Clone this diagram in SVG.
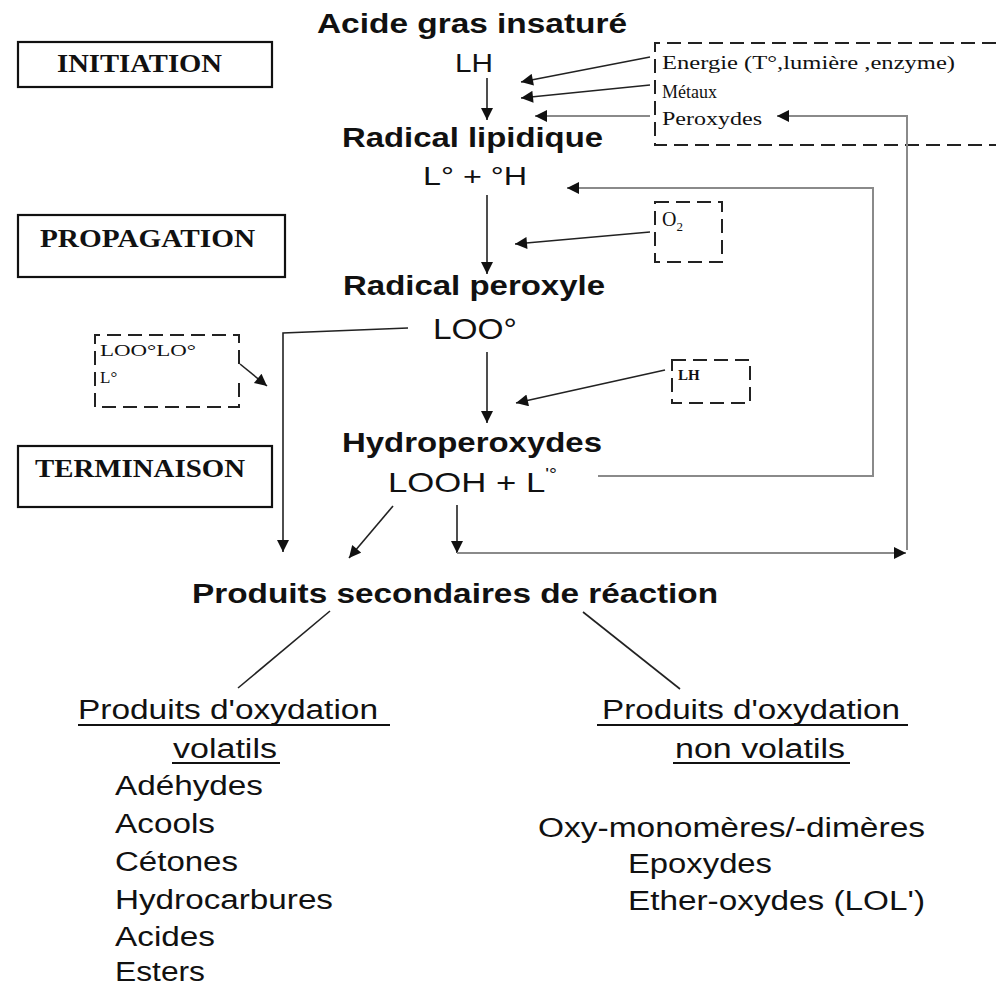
<svg xmlns="http://www.w3.org/2000/svg" width="996" height="988" viewBox="0 0 996 988">
<style>
.t{font-family:"Liberation Sans",Arial,sans-serif;fill:#111}
.b{font-weight:bold}
.s{font-family:"Liberation Serif","Times New Roman",serif;fill:#111}
.stage{fill:none;stroke:#111;stroke-width:2.2}
.dash{fill:none;stroke:#222;stroke-width:2;stroke-dasharray:14 7}
.a{fill:none;stroke:#222;stroke-width:1.6}
.g{fill:none;stroke:#8a8a8a;stroke-width:2}
.u{stroke:#111;stroke-width:2.2}
</style>
<defs>
<marker id="ah" viewBox="0 0 10 10" refX="10" refY="5" markerWidth="14" markerHeight="12" markerUnits="userSpaceOnUse" orient="auto">
<path d="M0,0 L10,5 L0,10 z" fill="#111"/>
</marker>
</defs>
<rect width="996" height="988" fill="#fff"/>

<g id="stage-initiation">
<rect class="stage" x="18" y="42" width="254" height="45"/>
<text class="s b" x="57" y="72" font-size="26" textLength="165" lengthAdjust="spacingAndGlyphs">INITIATION</text>
</g>
<g id="stage-propagation">
<rect class="stage" x="18" y="215" width="267" height="62"/>
<text class="s b" x="40" y="247" font-size="26" textLength="215" lengthAdjust="spacingAndGlyphs">PROPAGATION</text>
</g>
<g id="stage-terminaison">
<rect class="stage" x="18" y="446" width="254" height="61"/>
<text class="s b" x="35" y="477" font-size="26" textLength="210" lengthAdjust="spacingAndGlyphs">TERMINAISON</text>
</g>

<g id="node-acide">
<text class="t b" x="317" y="33" font-size="28" textLength="310" lengthAdjust="spacingAndGlyphs">Acide gras insaturé</text>
<text class="t" x="455" y="72" font-size="26" textLength="38" lengthAdjust="spacingAndGlyphs">LH</text>
</g>
<g id="node-radical-lipidique">
<text class="t b" x="342" y="147" font-size="27" textLength="261" lengthAdjust="spacingAndGlyphs">Radical lipidique</text>
<text class="t" x="423" y="185" font-size="26" textLength="104" lengthAdjust="spacingAndGlyphs">L° + °H</text>
</g>
<g id="node-radical-peroxyle">
<text class="t b" x="343" y="295" font-size="27" textLength="262" lengthAdjust="spacingAndGlyphs">Radical peroxyle</text>
<text class="t" x="433" y="339" font-size="30" textLength="84" lengthAdjust="spacingAndGlyphs">LOO°</text>
</g>
<g id="node-hydroperoxydes">
<text class="t b" x="342" y="452" font-size="27" textLength="260" lengthAdjust="spacingAndGlyphs">Hydroperoxydes</text>
<text class="t" x="388" y="492" font-size="28" textLength="169" lengthAdjust="spacingAndGlyphs">LOOH + L<tspan font-size="16" dy="-12">'°</tspan></text>
</g>
<g id="node-produits-secondaires">
<text class="t b" x="192" y="603" font-size="27" textLength="526" lengthAdjust="spacingAndGlyphs">Produits secondaires de réaction</text>
</g>

<g id="box-energie">
<path class="dash" d="M996,43 H655 V145 H996"/>
<text class="s" x="662" y="69" font-size="19" textLength="293" lengthAdjust="spacingAndGlyphs">Energie (T°,lumière ,enzyme)</text>
<text class="s" x="662" y="98" font-size="19" textLength="55" lengthAdjust="spacingAndGlyphs">Métaux</text>
<text class="s" x="662" y="125" font-size="19" textLength="100" lengthAdjust="spacingAndGlyphs">Peroxydes</text>
</g>
<g id="box-o2">
<rect class="dash" x="655" y="202" width="67" height="60"/>
<text class="s" x="662" y="226" font-size="20">O<tspan font-size="13" dy="5">2</tspan></text>
</g>
<g id="box-lh">
<rect class="dash" x="672" y="360" width="78" height="43"/>
<text class="s b" x="678" y="380" font-size="15">LH</text>
</g>
<g id="box-radicaux">
<path class="dash" d="M239,364 V335 H95 V407 H239 V377"/>
<text class="s" x="100" y="356" font-size="17" textLength="96" lengthAdjust="spacingAndGlyphs">LOO°LO°</text>
<text class="s" x="100" y="383" font-size="17">L°</text>
</g>

<g id="box-volatils">
<text class="t" x="78" y="719" font-size="27" textLength="300" lengthAdjust="spacingAndGlyphs">Produits d'oxydation</text>
<line class="u" x1="78" y1="725" x2="390" y2="725"/>
<text class="t" x="173" y="758" font-size="27" textLength="104" lengthAdjust="spacingAndGlyphs">volatils</text>
<line class="u" x1="172" y1="763" x2="280" y2="763"/>
<text class="t" x="115" y="795" font-size="27" textLength="148" lengthAdjust="spacingAndGlyphs">Adéhydes</text>
<text class="t" x="115" y="833" font-size="27" textLength="100" lengthAdjust="spacingAndGlyphs">Acools</text>
<text class="t" x="115" y="871" font-size="27" textLength="123" lengthAdjust="spacingAndGlyphs">Cétones</text>
<text class="t" x="115" y="909" font-size="27" textLength="218" lengthAdjust="spacingAndGlyphs">Hydrocarbures</text>
<text class="t" x="115" y="946" font-size="27" textLength="100" lengthAdjust="spacingAndGlyphs">Acides</text>
<text class="t" x="115" y="981" font-size="27" textLength="90" lengthAdjust="spacingAndGlyphs">Esters</text>
</g>
<g id="box-non-volatils">
<text class="t" x="602" y="719" font-size="27" textLength="298" lengthAdjust="spacingAndGlyphs">Produits d'oxydation</text>
<line class="u" x1="597" y1="725" x2="908" y2="725"/>
<text class="t" x="675" y="758" font-size="27" textLength="170" lengthAdjust="spacingAndGlyphs">non volatils</text>
<line class="u" x1="673" y1="763" x2="850" y2="763"/>
<text class="t" x="538" y="837" font-size="27" textLength="387" lengthAdjust="spacingAndGlyphs">Oxy-monomères/-dimères</text>
<text class="t" x="628" y="873" font-size="27" textLength="144" lengthAdjust="spacingAndGlyphs">Epoxydes</text>
<text class="t" x="628" y="910" font-size="27" textLength="297" lengthAdjust="spacingAndGlyphs">Ether-oxydes (LOL')</text>
</g>

<g id="connectors">
<line class="a" x1="487" y1="78" x2="487" y2="120" marker-end="url(#ah)"/>
<line class="a" x1="487" y1="195" x2="487" y2="274" marker-end="url(#ah)"/>
<line class="a" x1="487" y1="352" x2="487" y2="423" marker-end="url(#ah)"/>
<line class="a" x1="650" y1="57" x2="521" y2="82" marker-end="url(#ah)"/>
<line class="a" x1="650" y1="85" x2="521" y2="98" marker-end="url(#ah)"/>
<line class="g" x1="650" y1="116" x2="535" y2="116" marker-end="url(#ah)"/>
<line class="a" x1="650" y1="232" x2="515" y2="244" marker-end="url(#ah)"/>
<line class="a" x1="665" y1="370" x2="516" y2="403" marker-end="url(#ah)"/>
<line class="a" x1="240" y1="364" x2="267" y2="386" marker-end="url(#ah)"/>
<polyline class="a" points="408,328 283,333 283,552" marker-end="url(#ah)"/>
<line class="a" x1="393" y1="506" x2="349" y2="558" marker-end="url(#ah)"/>
<line class="a" x1="457" y1="505" x2="457" y2="553" marker-end="url(#ah)"/>
<line class="g" x1="457" y1="553" x2="906" y2="553" marker-end="url(#ah)"/>
<polyline class="g" points="907,550 907,116 777,116" marker-end="url(#ah)"/>
<polyline class="g" points="598,476 873,476 873,188 567,188" marker-end="url(#ah)"/>
<line class="a" x1="330" y1="611" x2="238" y2="688"/>
<line class="a" x1="583" y1="612" x2="680" y2="689"/>
</g>
</svg>
